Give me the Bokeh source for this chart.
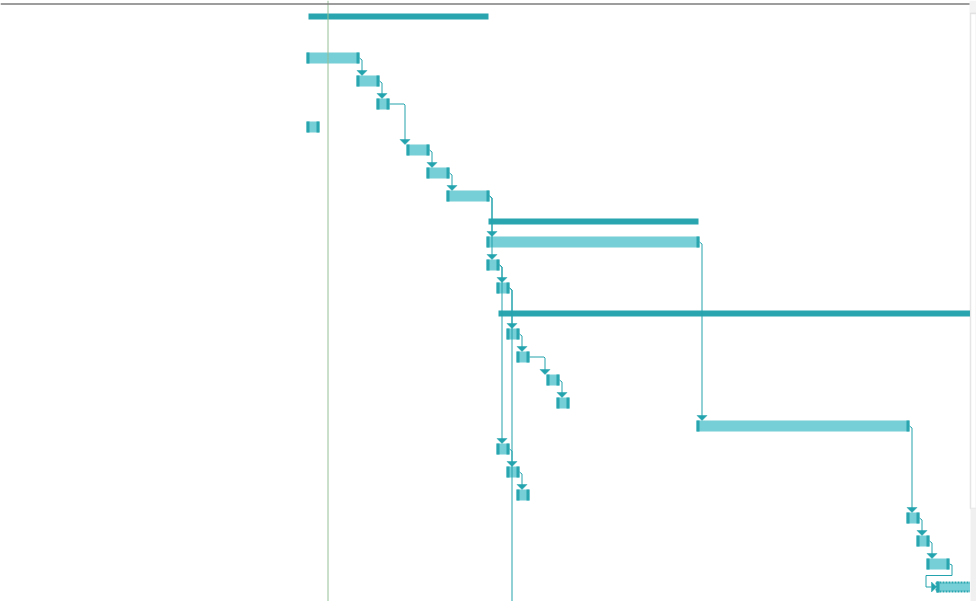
from bokeh.plotting import figure
from bokeh.models import Range1d, Span, BoxAnnotation
from bokeh.embed import file_html
from bokeh.resources import INLINE

# ---- data (day offsets, row positions) ----
rows   = [0, 2, 3, 4, 5, 6, 7, 8, 9, 10, 11, 12, 13, 14, 15, 16, 17, 18, 19, 20, 21, 22, 23, 24, 25, 27]
starts = [0, 0, 5, 7, 0, 10, 12, 14, 18, 18, 18, 19, 19, 20, 21, 24, 25, 39, 19, 20, 21, 60, 61, 62, 63, 20]
ends   = [18, 5, 7, 8, 1, 12, 14, 18, 39, 39, 19, 20, 70, 21, 22, 25, 26, 60, 20, 21, 22, 61, 62, 64, 70, 21]
kinds  = ["project", "task", "task", "task", "task", "task", "task", "task", "summary", "task",
          "task", "task", "summary", "task", "task", "task", "task", "task", "task", "task",
          "task", "task", "task", "task", "ongoing", "task"]
links = [(2, 3), (3, 4), (4, 6), (6, 7), (7, 8), (8, 10), (8, 11), (11, 12), (11, 19),
         (12, 14), (12, 27), (14, 15), (15, 16), (16, 17), (10, 18), (19, 20), (20, 21),
         (18, 22), (22, 23), (23, 24), (24, 25)]
today = 2.15
view_end = 66.35

DARK = "#28a5ae"
LIGHT = "#76ced6"
LINK = "#22a3ad"

PX = 0.1        # days per pixel
PY = 1 / 23.0   # rows per pixel

p = figure(width=976, height=601, output_backend="svg", toolbar_location=None,
           x_range=Range1d(-30.6, 67.0), y_range=Range1d(25.630, -0.5),
           x_axis_type=None, y_axis_type=None, min_border=0)
p.grid.visible = False
p.outline_line_color = None

task = {r: (s, e, k) for r, s, e, k in zip(rows, starts, ends, kinds)}

tl, tr, tt, tb = [], [], [], []
cl, cr, ct, cb = [], [], [], []
sl, sr, st, sb = [], [], [], []
ol, orr, ot, ob = [], [], [], []
for r, s, e, k in zip(rows, starts, ends, kinds):
    if k in ("summary", "project"):
        off = 2 if k == "project" else 0
        sl.append(s + 2 * PX); sr.append(e + 2 * PX)
        st.append(r + (off - 0.5) * PY); sb.append(r + (off + 5.5) * PY)
    elif k == "ongoing":
        ol.append(s); orr.append(e + 3 * PX); ot.append(r - 4.5 * PY); ob.append(r + 4.5 * PY)
        cl.append(s); cr.append(s + 3 * PX); ct.append(r - 5.5 * PY); cb.append(r + 5.5 * PY)
    else:
        tl.append(s); tr.append(e + 3 * PX); tt.append(r - 5.5 * PY); tb.append(r + 5.5 * PY)
        cl += [s, e]; cr += [s + 3 * PX, e + 3 * PX]
        ct += [r - 5.5 * PY] * 2; cb += [r + 5.5 * PY] * 2

p.quad(left=sl, right=sr, top=st, bottom=sb, fill_color=DARK, line_color=None)
p.quad(left=tl, right=tr, top=tt, bottom=tb, fill_color=LIGHT, line_color=None)
p.quad(left=ol, right=orr, top=ot, bottom=ob, fill_color=LIGHT, line_color=DARK,
       line_dash="2 1", line_width=2)
p.quad(left=cl, right=cr, top=ct, bottom=cb, fill_color=DARK, line_color=None)

# dependency links
xs, ys, axs, ays = [], [], [], []
for a, b in links:
    sa, ea, _ = task[a]
    sb_, eb, _ = task[b]
    xe = ea + 3 * PX
    if sb_ == ea:
        vx = ea + 5.5 * PX
        xs.append([xe, vx, vx]); ys.append([a, a + 2 * PY, b - 10 * PY])
        axs.append([vx - 5 * PX, vx + 5 * PX, vx]); ays.append([b - 10.5 * PY, b - 10.5 * PY, b - 5.5 * PY])
    elif sb_ > ea:
        vx = sb_ - 1.5 * PX
        xs.append([xe, vx - 1 * PX, vx, vx]); ys.append([a, a, a + 1 * PY, b - 10 * PY])
        axs.append([vx - 5 * PX, vx + 5 * PX, vx]); ays.append([b - 10.5 * PY, b - 10.5 * PY, b - 5.5 * PY])
    else:
        rx = ea + 5.5 * PX
        lx = sb_ - 10.5 * PX
        mid = a + 11.5 * PY
        xs.append([xe, rx, rx, lx, lx, sb_ - 5 * PX])
        ys.append([a, a + 1 * PY, mid, mid, b, b])
        axs.append([sb_ - 5 * PX, sb_ - 5 * PX, sb_]); ays.append([b - 5 * PY, b + 5 * PY, b])

p.multi_line(xs=xs, ys=ys, line_color=LINK, line_width=1)
p.patches(xs=axs, ys=ays, fill_color=LINK, line_color=LINK, line_width=0.5)

p.add_layout(Span(location=today, dimension="height", line_color="#94c094", line_width=1))

# header line and scrollbar chrome on the right
p.add_layout(Span(location=-8 * PY, dimension="width", line_color="#7d7d7d", line_width=1.5))
p.add_layout(BoxAnnotation(left=view_end, fill_color="white", fill_alpha=1, line_color=None))
p.add_layout(BoxAnnotation(left=view_end - 0.05, bottom=1.5 * PY, fill_color="#f3f3f3",
                           fill_alpha=1, line_color=None))
p.add_layout(BoxAnnotation(left=view_end + 0.05, top=1.5 * PY, bottom=21 + 13.5 * PY,
                           fill_color="white", fill_alpha=1, line_color="#a9a9a9", line_width=1.5))
p.add_layout(BoxAnnotation(left=view_end + 0.05, top=21 + 13.5 * PY, fill_color="#f0f0f0",
                           fill_alpha=1, line_color=None))

open("out.html", "w").write(file_html(p, INLINE))
